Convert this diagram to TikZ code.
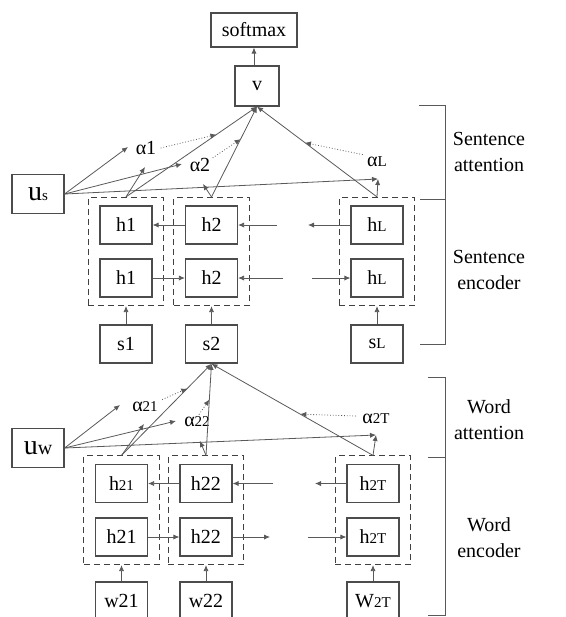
\documentclass[tikz,border=0pt]{standalone}
\usepackage{fontspec}
\setmainfont{Liberation Serif}
\usetikzlibrary{arrows.meta,positioning,fit}
\tikzset{
unit/.style={draw=black!70,line width=.6pt,minimum width=26pt,minimum height=19pt,inner sep=0pt,font=\fontsize{10}{12}\selectfont},
group/.style={draw=black!75,densely dashed,line width=.5pt,inner xsep=5.5pt,inner ysep=4pt},
link/.style={-{Latex[length=3pt,width=2.6pt]},draw=black!65,line width=.4pt},
plain/.style={draw=black!65,line width=.4pt},
weight/.style={link,densely dotted},
alpha/.style={inner sep=0pt,font=\fontsize{10}{12}\selectfont},
level/.style={draw=black!65,line width=.5pt},
side/.style={align=center,font=\fontsize{10}{13}\selectfont}
}
\newcommand{\sm}[1]{{\fontsize{7.5}{8}\selectfont #1}}
\newcommand{\bigu}{{\fontsize{14}{14}\selectfont u}}

\begin{document}
\begin{tikzpicture}[x=.5pt,y=-.5pt]
\useasboundingbox (0,0) rectangle (566,617);
\node[unit,minimum width=43pt,minimum height=17pt](softmax) at (254,30){softmax};
\node[unit,minimum width=22pt,minimum height=20pt](v) at (257,86){v};
\node[unit,minimum height=19.5pt](us) at (38,194){\bigu\sm{s}};
\node[unit](h1a) at (126,225){h1};
\node[unit](h1b) at (126,278){h1};
\node[unit](h2a) at (211.5,225){h2};
\node[unit](h2b) at (211.5,278){h2};
\node[unit](hLa) at (377,225){h\sm{L}};
\node[unit](hLb) at (377,278){h\sm{L}};
\node[group,fit=(h1a)(h1b)](g1){};
\node[group,fit=(h2a)(h2b)](g2){};
\node[group,fit=(hLa)(hLb)](gL){};
\node[unit](s1) at (126,344){s1};
\node[unit,line width=.8pt](s2) at (211.5,344){s2};
\node[unit](sL) at (377,344){s\sm{L}};
\node[alpha](a1) at (146,148){α1};
\node[alpha](a2) at (200,165){α2};
\node[alpha](aL) at (377,162){α\sm{L}};
\node[unit,minimum height=19.5pt](uw) at (38,448){\bigu{\fontsize{10}{10}\selectfont w}};
\node[unit](h21a) at (121.5,483.5){h\sm{21}};
\node[unit](h21b) at (121.5,537){h21};
\node[unit](h22a) at (206,483.5){h22};
\node[unit](h22b) at (206,537){h22};
\node[unit](h2Ta) at (373,483.5){h\sm{2T}};
\node[unit](h2Tb) at (373,537){h\sm{2T}};
\node[group,fit=(h21a)(h21b)](g21){};
\node[group,fit=(h22a)(h22b)](g22){};
\node[group,fit=(h2Ta)(h2Tb)](g2T){};
\node[unit](w21) at (121.5,601){w21};
\node[unit](w22) at (206,601){w22};
\node[unit](w2T) at (373,601){W\sm{2T}};
\node[alpha](a21) at (145,407){α\sm{21}};
\node[alpha](a22) at (197,422){α\sm{22}};
\node[alpha](a2T) at (376,419){α\sm{2T}};
\node[side](satt) at (489,152){Sentence\\attention};
\node[side](senc) at (489,270){Sentence\\encoder};
\node[side](watt) at (489,420){Word\\attention};
\node[side](wenc) at (489,538){Word\\encoder};
\coordinate (t1) at (128,147);
\coordinate (t2) at (182,164);
\coordinate (tL) at (378,179);
\coordinate (r1) at (145,167);
\coordinate (r2) at (203,184);
\coordinate (t21) at (120,405);
\coordinate (t22) at (176,421);
\coordinate (t2T) at (376,435);
\coordinate (r21) at (144,424);
\coordinate (r22) at (200,441);
\coordinate (sa) at (277,225);
\coordinate (sb) at (308,225);
\coordinate (sc) at (283,278);
\coordinate (sd) at (312,278);
\coordinate (wa) at (273,483.5);
\coordinate (wb) at (315,483.5);
\coordinate (wc) at (270,537);
\coordinate (wd) at (308,537);
\draw[link](softmax.south|-v.north)--(softmax.south);
\draw[link](us.east)--(t1);
\draw[link](us.east)--(t2);
\draw[link](us.east)--(tL);
\draw[link](g1.north)--coordinate[pos=.69](m1)(v.south);
\draw[link](g2.north)--coordinate[pos=.64](m2)(v.south);
\draw[link](gL.north)--coordinate[pos=.6](mL)(v.south);
\draw[link](g1.north)--(r1);
\draw[link](g2.north)--(r2);
\draw[link](gL.north)--(tL);
\draw[weight](a1.east)++(4,0)--(m1);
\draw[weight](a2.north east)++(2,0)--(m2);
\draw[weight](aL.north west)++(-4,-2)--(mL);
\draw[link](h2a)--(h1a);
\draw[link](sa)--(h2a);
\draw[link](hLa)--(sb);
\draw[link](h1b)--(h2b);
\draw[link](sc)--(h2b);
\draw[link](sd)--(hLb);
\draw[link](s1.north)--(s1.north|-g1.south);
\draw[link](s2.north)--(s2.north|-g2.south);
\draw[link](sL.north)--(sL.north|-gL.south);
\draw[link](uw.east)--(t21);
\draw[link](uw.east)--(t22);
\draw[link](uw.east)--(t2T);
\draw[link](g21.north)--coordinate[pos=.73](m21)(s2.south);
\draw[link](g22.north)--coordinate[pos=.61](m22)(s2.south);
\draw[link](g2T.north)--coordinate[pos=.45](m2T)(s2.south);
\draw[link](g21.north)--(r21);
\draw[link](g22.north)--(r22);
\draw[link](g2T.north)--(t2T);
\draw[weight](a21.north east)++(4,-2)--(m21);
\draw[weight](a22.north)++(2,-2)--(m22);
\draw[weight](a2T.west)++(-6,-3)--(m2T);
\draw[link](h22a)--(h21a);
\draw[link](wa)--(h22a);
\draw[link](h2Ta)--(wb);
\draw[link](h21b)--(h22b);
\draw[link](h22b)--(wc);
\draw[link](wd)--(h2Tb);
\draw[link](w21.north)--(w21.north|-g21.south);
\draw[link](w22.north)--(w22.north|-g22.south);
\draw[link](w2T.north)--(w2T.north|-g2T.south);
\draw[level](419,105)-|(445,344)--(420,344);
\draw[level](420,199)--(445,199);
\draw[level](428,377)-|(445,615)--(428,615);
\draw[level](428,457)--(445,457);
\end{tikzpicture}
\end{document}
